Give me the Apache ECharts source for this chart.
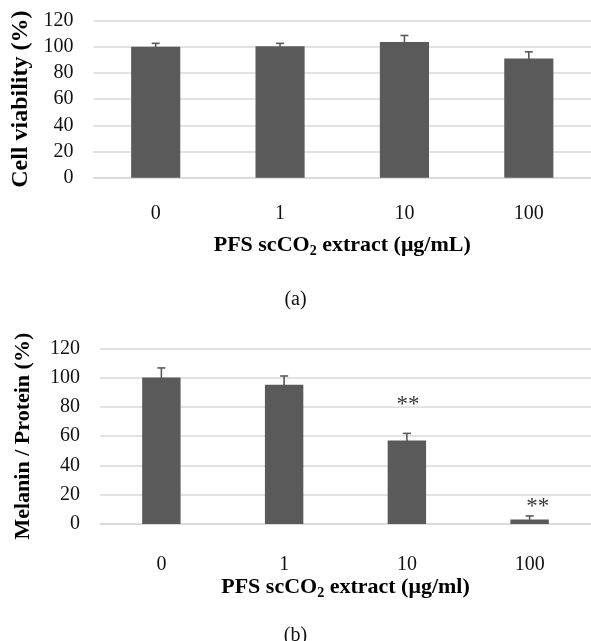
<!DOCTYPE html>
<html>
<head>
<meta charset="utf-8">
<script src="https://cdn.jsdelivr.net/npm/echarts@6/dist/echarts.min.js"></script>
<style>
  html, body { margin: 0; padding: 0; background: #fff; }
  #chart { width: 591px; height: 641px; }
</style>
</head>
<body>
<div id="chart"></div>
<script>
// 浓度分组
const doses = ['0', '1', '10', '100']
// (a) 细胞活性
const viability = [100, 100.4, 103.7, 91.2]
const viabilityErr = [2.7, 2.3, 5.0, 5.0]
// (b) 黑色素/蛋白
const melanin = [100, 95.1, 57.0, 3.1]
const melaninErr = [6.6, 6.0, 4.9, 2.4]
// 显著性标记 [分组序号, 位置值]
const starsB = [[2, 83.7], [3, 14.1]]
const yTicks = { min: 0, max: 120, interval: 20 }

const barColor = '#5a5a5a'
const gridColor = '#d9d9d9'
const font = 'Liberation Serif'

// 误差线
function errorRender(params, api) {
  const i = api.value(0)
  const v = api.value(1)
  const e = api.value(2)
  const top = api.coord([i, v + e])
  const bot = api.coord([i, v - e])
  const st = { stroke: barColor, lineWidth: 1.6 }
  return {
    type: 'group',
    children: [
      { type: 'line', shape: { x1: top[0], y1: top[1], x2: bot[0], y2: bot[1] }, style: st },
      { type: 'line', shape: { x1: top[0] - 4, y1: top[1], x2: top[0] + 4, y2: top[1] }, style: st },
      { type: 'line', shape: { x1: bot[0] - 4, y1: bot[1], x2: bot[0] + 4, y2: bot[1] }, style: st }
    ]
  }
}

function xAxisOf(gridIndex, name, margin, nameGap) {
  return {
    type: 'category',
    gridIndex: gridIndex,
    data: doses,
    axisTick: { show: false },
    axisLine: { lineStyle: { color: gridColor, width: 1.5 } },
    axisLabel: { color: '#111', fontSize: 20, fontFamily: font, margin: margin },
    name: name,
    nameLocation: 'middle',
    nameGap: nameGap,
    nameTextStyle: {
      color: '#000', fontSize: 22, fontWeight: 'bold', fontFamily: font,
      rich: {
        b: { fontSize: 22, fontWeight: 'bold', fontFamily: font, color: '#000', lineHeight: 26 },
        sub: { fontSize: 14, fontWeight: 'bold', fontFamily: font, color: '#000', verticalAlign: 'bottom', lineHeight: 26, padding: [10, 0, 0, 0] }
      }
    }
  }
}

function yAxisOf(gridIndex, name, size, nameGap) {
  return {
    type: 'value',
    gridIndex: gridIndex,
    min: yTicks.min,
    max: yTicks.max,
    interval: yTicks.interval,
    axisLine: { show: false },
    axisTick: { show: false },
    splitLine: { lineStyle: { color: gridColor, width: 1.5 } },
    axisLabel: { color: '#111', fontSize: 20, fontFamily: font, margin: 20 },
    name: name,
    nameLocation: 'middle',
    nameGap: nameGap,
    nameTextStyle: { color: '#000', fontSize: size, fontWeight: 'bold', fontFamily: font }
  }
}

const chart = echarts.init(document.getElementById('chart'))
const option = {
  animation: false,
  textStyle: { fontFamily: font },
  title: [
    { text: '(a)', left: 'center', top: 285, textStyle: { fontSize: 20, fontWeight: 'normal', color: '#111', fontFamily: font } },
    { text: '(b)', left: 'center', top: 621, textStyle: { fontSize: 20, fontWeight: 'normal', color: '#111', fontFamily: font } }
  ],
  grid: [
    { left: 93.5, right: -10.5, top: 20.7, height: 157 },
    { left: 100, right: -12, top: 348.3, height: 175.7 }
  ],
  xAxis: [
    xAxisOf(0, '{b|PFS scCO}{sub|2}{b| extract (μg/mL)}', 26, 55),
    xAxisOf(1, '{b|PFS scCO}{sub|2}{b| extract (μg/ml)}', 31, 50)
  ],
  yAxis: [
    yAxisOf(0, 'Cell viability (%)', 24, 59),
    yAxisOf(1, 'Melanin / Protein (%)', 22, 66)
  ],
  series: [
    {
      type: 'bar', xAxisIndex: 0, yAxisIndex: 0, data: viability,
      barWidth: '39.5%', itemStyle: { color: barColor }
    },
    {
      type: 'custom', xAxisIndex: 0, yAxisIndex: 0, renderItem: errorRender,
      data: viability.map((v, i) => [i, v, viabilityErr[i]]), z: 5
    },
    {
      type: 'bar', xAxisIndex: 1, yAxisIndex: 1, data: melanin,
      barWidth: '31.3%', itemStyle: { color: barColor }
    },
    {
      type: 'custom', xAxisIndex: 1, yAxisIndex: 1, renderItem: errorRender,
      data: melanin.map((v, i) => [i, v, melaninErr[i]]), z: 5
    },
    {
      type: 'scatter', xAxisIndex: 1, yAxisIndex: 1, symbolSize: 0,
      data: starsB.map((d, i) => ({
        value: d,
        label: { offset: i === 1 ? [8, 4] : [1, 4] }
      })),
      label: {
        show: true, position: 'inside', formatter: '**',
        fontSize: 23, color: '#000', fontFamily: font
      }
    }
  ]
}
chart.setOption(option)
</script>
</body>
</html>
